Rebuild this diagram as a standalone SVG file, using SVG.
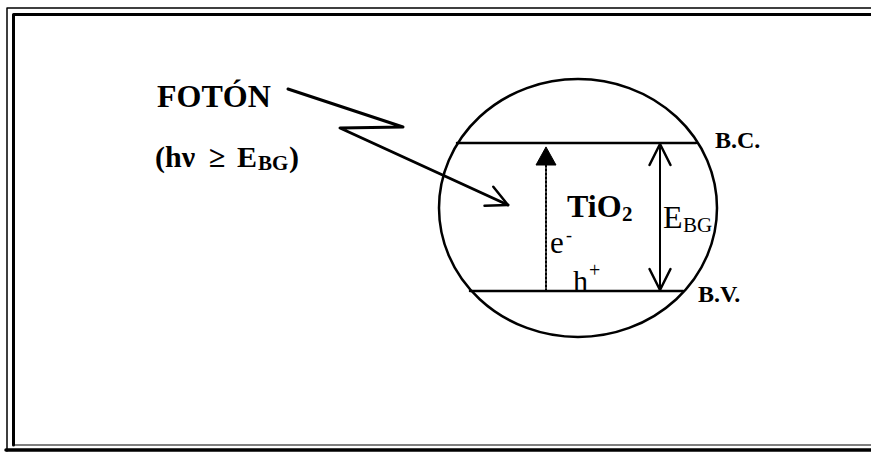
<svg xmlns="http://www.w3.org/2000/svg" width="871" height="452" viewBox="0 0 871 452">
<style>
.bold{font-family:"Liberation Serif","Times New Roman",serif;font-weight:bold;fill:#000}
.reg{font-family:"Liberation Serif","Times New Roman",serif;font-weight:normal;fill:#000}
.ln{stroke:#000;fill:none;stroke-linecap:round;stroke-linejoin:round}
</style>
<defs>
<marker id="openV" markerUnits="userSpaceOnUse" orient="auto-start-reverse" viewBox="-24 -13 26 26" markerWidth="26" markerHeight="26" refX="0" refY="0" overflow="visible">
<path d="M -21,-10.5 L 0,0 L -21,10.5" fill="none" stroke="#000" stroke-width="2.5" stroke-linecap="round" stroke-linejoin="round"/>
</marker>
<marker id="solidTri" markerUnits="userSpaceOnUse" orient="auto" viewBox="-20 -12 22 24" markerWidth="22" markerHeight="24" refX="0" refY="0" overflow="visible">
<path d="M -18,-10 L 0,0 L -18,10 Z" fill="#000" stroke="#000" stroke-width="1"/>
</marker>
</defs>
<rect width="871" height="452" fill="#fff"/>
<g id="frame">
<path class="ln" d="M 880,8 L 7,8 L 7,451" stroke-width="1.5" stroke-linecap="butt"/>
<path class="ln" d="M 880,14.5 L 13.5,14.5 L 13.5,445" stroke-width="3" stroke-linecap="butt"/>
<line class="ln" x1="13" y1="445" x2="880" y2="445" stroke-width="1" stroke-linecap="butt"/>
<line class="ln" x1="6" y1="450" x2="880" y2="450" stroke-width="3.5" stroke-linecap="butt"/>
</g>
<g id="photon-label">
<text class="bold" x="157" y="107" font-size="32">FOTÓN</text>
</g>
<g id="energy-condition">
<text class="bold" font-size="30" y="167"><tspan x="155">(hν</tspan><tspan x="209">≥</tspan><tspan x="237">E</tspan><tspan x="258" y="170" font-size="21">BG</tspan><tspan x="289" y="167">)</tspan></text>
</g>
<g id="particle">
<ellipse class="ln" cx="578" cy="208" rx="139" ry="129" stroke-width="2.5"/>
</g>
<g id="conduction-band">
<line class="ln" x1="457" y1="143" x2="696" y2="143" stroke-width="2.5"/>
<text class="bold" x="715" y="148" font-size="24">B.C.</text>
</g>
<g id="valence-band">
<line class="ln" x1="470" y1="291" x2="683" y2="291" stroke-width="2.5"/>
<text class="bold" x="698" y="302" font-size="24">B.V.</text>
</g>
<g id="tio2-label">
<text class="bold" x="567" y="217" font-size="32">TiO<tspan x="622" y="221" font-size="21">2</tspan></text>
</g>
<g id="electron-label">
<text class="reg" x="550" y="253" font-size="31">e<tspan x="566" y="241" font-size="18">-</tspan></text>
</g>
<g id="hole-label">
<text class="reg" x="573" y="291" font-size="30">h<tspan x="589" y="277" font-size="20">+</tspan></text>
</g>
<g id="gap-label">
<text class="reg" x="663" y="228" font-size="32">E<tspan x="683" y="232" font-size="21">BG</tspan></text>
</g>
<g id="connectors">
<path class="ln" d="M 288,89 L 403,127 L 340,128 L 508,205" stroke-width="3" marker-end="url(#openV)"/>
<line class="ln" x1="546" y1="291" x2="546" y2="165" stroke-width="2" stroke-dasharray="2 2" stroke-linecap="butt"/>
<line class="ln" x1="546" y1="166" x2="546" y2="147" stroke-width="0.5" marker-end="url(#solidTri)"/>
<line class="ln" x1="660" y1="144" x2="660" y2="290" stroke-width="2" marker-start="url(#openV)" marker-end="url(#openV)"/>
</g>
</svg>
